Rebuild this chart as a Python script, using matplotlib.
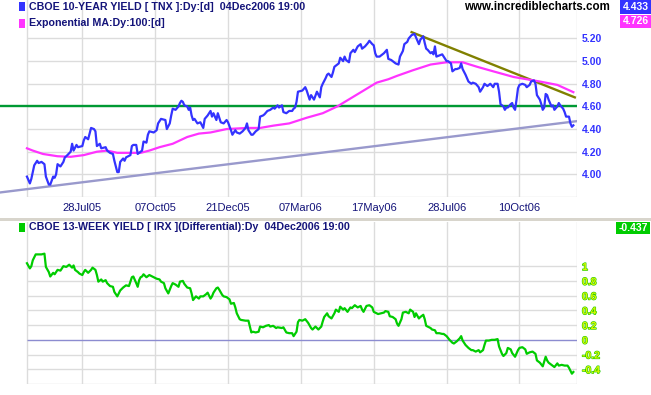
import matplotlib
matplotlib.use("Agg")
import matplotlib.pyplot as plt
from matplotlib.patches import Rectangle
import matplotlib.patheffects as pe

# ---------------- data (x = trading-bar index, 0 = first bar) ----------------
tnx_bars = [0, 2, 3, 5, 7, 8, 10, 12, 13, 15, 16, 18, 19, 20, 21, 23, 25, 26, 27, 30,
            31, 32, 34, 35, 38, 39, 40, 42, 43, 44, 46, 47, 48, 50, 51, 54, 55, 57, 59, 60,
            62, 63, 64, 66, 67, 68, 71, 72, 73, 75, 76, 79, 80, 82, 83, 84, 87, 89, 90, 92,
            95, 96, 98, 99, 100, 102, 104, 105, 106, 107, 108, 110, 111, 112, 113, 114, 115, 116, 117, 119,
            121, 122, 124, 126, 127, 128, 130, 131, 133, 135, 137, 138, 140, 141, 143, 144, 146, 148, 150, 151,
            152, 154, 155, 157, 159, 160, 162, 163, 165, 167, 169, 170, 172, 173, 175, 176, 178, 180, 182, 183,
            184, 185, 186, 189, 191, 192, 194, 195, 197, 199, 201, 202, 203, 205, 206, 207, 209, 210, 211, 213,
            214, 215, 217, 218, 219, 221, 222, 224, 225, 227, 229, 230, 232, 234, 235, 237, 238, 239, 240, 242,
            245, 247, 248, 250, 251, 253, 255, 256, 258, 259, 261, 262, 264, 266, 267, 268, 269, 270, 272, 273,
            274, 275, 277, 278, 279, 280, 281, 283, 285, 286, 288, 289, 291, 292, 294, 295, 297, 298, 299, 301,
            303, 305, 306, 308, 310, 311, 313, 314, 316, 318, 320, 321, 323, 324, 325, 327, 328, 329, 330, 332,
            333, 334, 335, 336, 337, 338, 340, 342, 343, 345, 346, 348, 349, 350, 352, 353, 354, 355, 356, 357,
            358, 359, 360, 361, 362, 364, 365, 366, 368, 369, 370, 372, 373, 374, 375]
tnx_values = [3.98, 3.92, 3.96, 4.08, 4.12, 4.10, 4.11, 4.09, 3.98, 3.91, 3.91, 3.98, 3.97, 4.00, 4.09, 4.07, 4.11, 4.15, 4.16, 4.20,
              4.27, 4.21, 4.26, 4.24, 4.25, 4.30, 4.33, 4.31, 4.36, 4.41, 4.40, 4.38, 4.25, 4.27, 4.23, 4.24, 4.21, 4.19, 4.18, 4.12,
              4.02, 4.02, 4.11, 4.14, 4.12, 4.15, 4.17, 4.25, 4.26, 4.26, 4.18, 4.21, 4.29, 4.28, 4.35, 4.38, 4.37, 4.39, 4.45, 4.49,
              4.48, 4.40, 4.45, 4.52, 4.58, 4.57, 4.60, 4.63, 4.65, 4.64, 4.61, 4.60, 4.57, 4.59, 4.52, 4.48, 4.49, 4.47, 4.45, 4.46,
              4.41, 4.49, 4.52, 4.56, 4.51, 4.54, 4.48, 4.54, 4.46, 4.45, 4.48, 4.46, 4.39, 4.35, 4.39, 4.37, 4.36, 4.38, 4.41, 4.45,
              4.39, 4.35, 4.35, 4.38, 4.40, 4.51, 4.52, 4.53, 4.56, 4.57, 4.59, 4.58, 4.61, 4.59, 4.61, 4.55, 4.54, 4.56, 4.56, 4.58,
              4.59, 4.64, 4.73, 4.74, 4.77, 4.74, 4.66, 4.70, 4.66, 4.73, 4.68, 4.77, 4.80, 4.85, 4.88, 4.89, 4.86, 4.90, 4.95, 4.97,
              4.98, 5.03, 5.00, 5.04, 5.01, 4.99, 5.07, 5.10, 5.08, 5.13, 5.15, 5.11, 5.13, 5.16, 5.18, 5.15, 5.14, 5.07, 5.04, 5.04,
              5.07, 5.10, 5.02, 5.01, 5.00, 4.98, 4.97, 5.04, 5.09, 5.15, 5.17, 5.20, 5.23, 5.24, 5.21, 5.18, 5.15, 5.19, 5.22, 5.16,
              5.11, 5.10, 5.07, 5.08, 5.06, 5.13, 5.04, 5.05, 5.06, 5.04, 5.00, 5.00, 4.98, 4.91, 4.93, 4.93, 4.94, 4.98, 4.93, 4.88,
              4.82, 4.80, 4.81, 4.80, 4.77, 4.73, 4.77, 4.80, 4.78, 4.80, 4.77, 4.80, 4.80, 4.73, 4.62, 4.60, 4.57, 4.59, 4.59, 4.62,
              4.63, 4.59, 4.57, 4.66, 4.76, 4.79, 4.80, 4.79, 4.77, 4.79, 4.82, 4.83, 4.80, 4.70, 4.66, 4.62, 4.57, 4.59, 4.71, 4.70,
              4.66, 4.63, 4.60, 4.61, 4.57, 4.60, 4.63, 4.61, 4.58, 4.55, 4.51, 4.51, 4.45, 4.42, 4.433]

ema_bars = [0, 4, 11, 21, 30, 39, 48, 55, 62, 68, 78, 84, 91, 100, 110, 118, 126, 137, 151, 160,
            169, 180, 192, 203, 213, 222, 231, 240, 248, 254, 265, 277, 288, 299, 309, 320, 334, 343, 352, 364, 375]
ema_values = [4.23, 4.21, 4.18, 4.16, 4.155, 4.17, 4.20, 4.21, 4.19, 4.19, 4.19, 4.21, 4.24, 4.27, 4.33, 4.36, 4.37, 4.40, 4.41, 4.41,
              4.43, 4.45, 4.50, 4.54, 4.60, 4.67, 4.74, 4.81, 4.84, 4.87, 4.92, 4.97, 4.99, 4.99, 4.95, 4.91, 4.86, 4.84, 4.82, 4.79, 4.726]

irx_bars = [0, 2, 3, 4, 6, 8, 10, 12, 13, 15, 16, 18, 19, 21, 23, 24, 25, 27, 29, 31,
            32, 33, 35, 36, 38, 39, 40, 42, 44, 45, 47, 48, 49, 51, 52, 54, 55, 57, 59, 60,
            62, 63, 64, 66, 68, 70, 71, 72, 73, 75, 76, 77, 78, 79, 80, 82, 84, 86, 87, 89,
            91, 92, 94, 95, 97, 98, 99, 100, 102, 104, 105, 107, 108, 110, 112, 113, 114, 116, 118, 119,
            121, 123, 124, 126, 127, 128, 130, 131, 132, 134, 135, 137, 139, 140, 142, 143, 144, 146, 147, 150,
            152, 154, 155, 157, 159, 160, 162, 164, 166, 167, 169, 171, 172, 175, 176, 178, 180, 182, 183, 185,
            186, 187, 189, 191, 193, 195, 196, 198, 200, 202, 203, 204, 206, 207, 209, 211, 212, 214, 215, 217,
            218, 220, 222, 223, 225, 227, 229, 230, 231, 233, 235, 237, 238, 240, 241, 243, 245, 246, 248, 249,
            251, 253, 254, 255, 257, 258, 260, 262, 263, 265, 266, 267, 269, 270, 272, 273, 274, 277, 278, 280,
            281, 283, 285, 286, 288, 290, 292, 293, 295, 297, 298, 299, 301, 303, 305, 306, 308, 310, 311, 313,
            314, 315, 317, 319, 321, 323, 324, 326, 327, 329, 330, 332, 333, 335, 337, 338, 340, 342, 343, 345,
            347, 349, 350, 352, 354, 356, 357, 358, 360, 362, 364, 365, 367, 369, 371, 372, 374, 375]
irx_values = [1.04, 0.97, 1.00, 1.08, 1.16, 1.16, 1.16, 1.17, 0.99, 0.92, 0.86, 0.91, 0.89, 0.95, 0.94, 0.97, 1.00, 0.99, 1.02, 0.98,
              1.01, 0.95, 0.92, 0.90, 0.88, 0.92, 0.95, 0.91, 0.95, 0.98, 0.95, 0.88, 0.79, 0.82, 0.79, 0.81, 0.77, 0.73, 0.72, 0.65,
              0.59, 0.63, 0.67, 0.71, 0.74, 0.73, 0.79, 0.85, 0.86, 0.77, 0.72, 0.81, 0.85, 0.86, 0.89, 0.85, 0.88, 0.86, 0.85, 0.83,
              0.82, 0.79, 0.77, 0.70, 0.63, 0.68, 0.73, 0.77, 0.75, 0.72, 0.79, 0.80, 0.76, 0.71, 0.70, 0.63, 0.54, 0.59, 0.56, 0.59,
              0.59, 0.62, 0.64, 0.56, 0.59, 0.64, 0.70, 0.71, 0.68, 0.61, 0.59, 0.58, 0.55, 0.49, 0.50, 0.44, 0.36, 0.28, 0.27, 0.26,
              0.26, 0.10, 0.11, 0.10, 0.11, 0.18, 0.17, 0.19, 0.20, 0.18, 0.19, 0.16, 0.17, 0.16, 0.17, 0.10, 0.09, 0.09, 0.05, 0.11,
              0.24, 0.27, 0.26, 0.28, 0.23, 0.16, 0.14, 0.18, 0.14, 0.18, 0.25, 0.31, 0.36, 0.32, 0.29, 0.36, 0.41, 0.38, 0.45, 0.41,
              0.43, 0.38, 0.44, 0.43, 0.47, 0.44, 0.46, 0.41, 0.38, 0.46, 0.47, 0.44, 0.38, 0.36, 0.35, 0.36, 0.37, 0.39, 0.38, 0.32,
              0.31, 0.28, 0.22, 0.19, 0.28, 0.37, 0.38, 0.36, 0.41, 0.38, 0.31, 0.36, 0.29, 0.31, 0.34, 0.28, 0.19, 0.16, 0.14, 0.13,
              0.09, 0.09, 0.08, 0.08, 0.05, 0.00, -0.04, -0.05, -0.02, 0.02, 0.05, -0.01, -0.07, -0.11, -0.14, -0.14, -0.16, -0.14, -0.17, -0.14,
              -0.07, -0.01, -0.01, 0.00, 0.00, 0.01, -0.09, -0.19, -0.22, -0.18, -0.11, -0.13, -0.18, -0.23, -0.14, -0.11, -0.10, -0.13, -0.19, -0.17,
              -0.16, -0.19, -0.28, -0.31, -0.36, -0.23, -0.28, -0.31, -0.34, -0.37, -0.32, -0.35, -0.34, -0.35, -0.35, -0.38, -0.46, -0.437]

support_level = 4.60
down_trend_bars = [264, 376]
down_trend_values = [5.256, 4.68]
up_trend_bars = [-18.5, 377.5]
up_trend_values = [3.84, 4.47]

date_tick_bars = [38, 88, 138, 188, 238, 288, 338]
date_tick_labels = ["28Jul05", "07Oct05", "21Dec05", "07Mar06", "17May06", "28Jul06", "10Oct06"]
tnx_ticks = [4.00, 4.20, 4.40, 4.60, 4.80, 5.00, 5.20]
irx_ticks = [-0.4, -0.2, 0, 0.2, 0.4, 0.6, 0.8, 1]
irx_tick_labels = ["-0.4", "-0.2", "0", "0.2", "0.4", "0.6", "0.8", "1"]

tnx_title = "CBOE 10-YEAR YIELD [ TNX ]:Dy:[d]  04Dec2006 19:00"
ema_title = "Exponential MA:Dy:100:[d]"
irx_title = "CBOE 13-WEEK YIELD [ IRX ](Differential):Dy  04Dec2006 19:00"
site = "www.incrediblecharts.com"
tnx_last, ema_last, irx_last = "4.433", "4.726", "-0.437"

# ---------------- styling ----------------
W, H = 651, 395
FONT = "Liberation Sans"
BLUE = "#3333ff"
MAG = "#ff33ff"
GREEN = "#00cc00"
NAVY = "#14147a"
GRID = "#dcdcdc"
XL = (-18.5, 377.5)

fig = plt.figure(figsize=(W / 100, H / 100), dpi=100)
fig.patch.set_facecolor("white")


def fx(px):
    return px / W


def fy(py):
    return 1 - py / H


ax1 = fig.add_axes([0, fy(197), fx(577), (197) / H])
ax2 = fig.add_axes([0, fy(384), fx(577), (384 - 222) / H])

for ax in (ax1, ax2):
    ax.set_xlim(*XL)
    for s in ax.spines.values():
        s.set_visible(False)
    ax.set_facecolor("white")

# ---- top panel ----
ax1.set_ylim(3.80, 5.54)
for v in [3.80] + tnx_ticks:
    ax1.hlines(v, 0, XL[1], color=GRID, lw=1.0, zorder=0)
for b in [0] + date_tick_bars + [XL[1] - 0.3]:
    ax1.axvline(b, color=GRID, lw=1.0, zorder=0)

ax1.plot(XL, [support_level, support_level], color="#009933", lw=1.7, zorder=2, solid_capstyle="butt")
ax1.plot(up_trend_bars, up_trend_values, color="#9999cc", lw=1.7, zorder=2)
ax1.plot(down_trend_bars, down_trend_values, color="#808000", lw=1.7, zorder=3)
ax1.plot(ema_bars, ema_values, color=MAG, lw=1.6, zorder=3)
ax1.plot(tnx_bars, tnx_values, color=BLUE, lw=1.6, zorder=4)

ax1.yaxis.tick_right()
ax1.set_yticks(tnx_ticks)
ax1.set_yticklabels([f"{v:.2f}" for v in tnx_ticks])
ax1.tick_params(axis="y", length=0, pad=3.6, labelsize=7.5, labelcolor=BLUE)
for lbl in ax1.get_yticklabels():
    lbl.set_fontfamily(FONT)
    lbl.set_fontweight("bold")
ax1.set_xticks(date_tick_bars)
ax1.set_xticklabels(date_tick_labels)
ax1.tick_params(axis="x", length=0, pad=4.2, labelsize=8, labelcolor=NAVY)
for lbl in ax1.get_xticklabels():
    lbl.set_fontfamily(FONT)

# ---- bottom panel ----
ax2.set_ylim(-0.6, 1.6)
for v in [-0.6] + irx_ticks:
    if v == 0:
        continue
    ax2.hlines(v, 0, XL[1], color=GRID, lw=1.0, zorder=0)
for b in [0] + date_tick_bars + [XL[1] - 0.3]:
    ax2.axvline(b, color=GRID, lw=1.0, zorder=0)
ax2.hlines(0, 0, XL[1], color="#8c8cd0", lw=1.0, zorder=1)
ax2.plot(irx_bars, irx_values, color=GREEN, lw=1.6, zorder=4)
ax2.yaxis.tick_right()
ax2.set_yticks(irx_ticks)
ax2.set_yticklabels(irx_tick_labels)
ax2.tick_params(axis="y", length=0, pad=3.6, labelsize=7.5, labelcolor="#d8f800")
for lbl in ax2.get_yticklabels():
    lbl.set_fontfamily(FONT)
    lbl.set_fontweight("bold")
    lbl.set_path_effects([pe.withStroke(linewidth=0.85, foreground="#1fcc00")])
ax2.set_xticks([])

# ---- separator band ----
fig.add_artist(Rectangle((0, fy(221)), 1, 3 / H, transform=fig.transFigure,
                         facecolor="#d8d5cc", edgecolor="none"))

# ---- headers ----
def marker(px, py, color):
    fig.add_artist(Rectangle((fx(px), fy(py + 9)), 6 / W, 9 / H, transform=fig.transFigure,
                             facecolor=color, edgecolor="none"))

marker(19, 2, BLUE)
fig.text(fx(29), fy(6.5), tnx_title, fontsize=7.7, fontweight="bold", color=NAVY,
         family=FONT, va="center", ha="left")
marker(19, 19, MAG)
fig.text(fx(29), fy(23), ema_title, fontsize=7.7, fontweight="bold", color=NAVY,
         family=FONT, va="center", ha="left")
marker(19, 223, GREEN)
fig.text(fx(29), fy(227.5), irx_title, fontsize=7.7, fontweight="bold", color=NAVY,
         family=FONT, va="center", ha="left")

fig.text(fx(610), fy(7), site, fontsize=8.3, fontweight="bold", color="black",
         family=FONT, va="center", ha="right")


def value_box(x0, y0, x1, y1, color, txt):
    fig.add_artist(Rectangle((fx(x0), fy(y1)), (x1 - x0) / W, (y1 - y0) / H,
                             transform=fig.transFigure, facecolor=color, edgecolor="none"))
    fig.text(fx((x0 + x1) / 2), fy((y0 + y1) / 2), txt, fontsize=7.5, fontweight="bold",
             color="white", family=FONT, va="center", ha="center")


value_box(620, 0, 651, 14, BLUE, tnx_last)
value_box(620, 15, 651, 28, MAG, ema_last)
value_box(616, 222, 650, 234, GREEN, irx_last)

fig.savefig("out.png", dpi=100, facecolor="white")
